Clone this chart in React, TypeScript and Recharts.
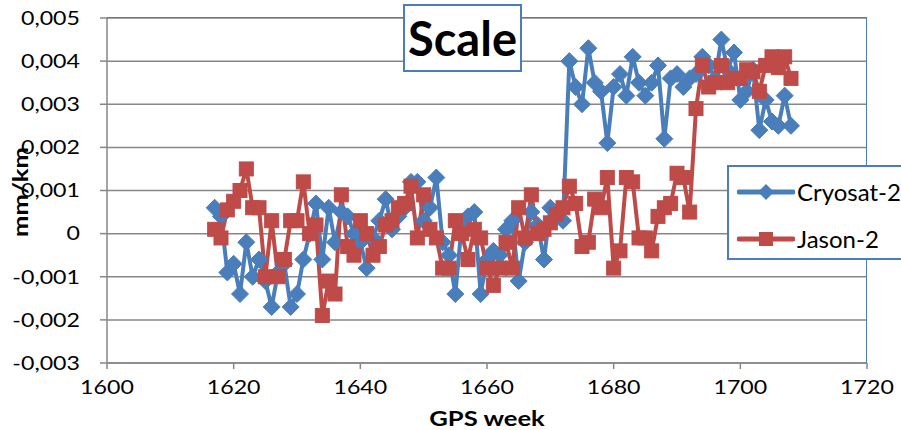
import React from 'react';
import { LineChart, Line, XAxis, YAxis, CartesianGrid } from 'recharts';

const weeks = [
  1617, 1618, 1619, 1620, 1621, 1622, 1623, 1624, 1625, 1626, 1627, 1628, 1629, 1630, 1631, 1632,
  1633, 1634, 1635, 1636, 1637, 1638, 1639, 1640, 1641, 1642, 1643, 1644, 1645, 1646, 1647, 1648,
  1649, 1650, 1651, 1652, 1653, 1654, 1655, 1656, 1657, 1658, 1659, 1660, 1661, 1662, 1663, 1664,
  1665, 1666, 1667, 1668, 1669, 1670, 1671, 1672, 1673, 1674, 1675, 1676, 1677, 1678, 1679, 1680,
  1681, 1682, 1683, 1684, 1685, 1686, 1687, 1688, 1689, 1690, 1691, 1692, 1693, 1694, 1695, 1696,
  1697, 1698, 1699, 1700, 1701, 1702, 1703, 1704, 1705, 1706, 1707, 1708,
];

// values in 0.001 mm/km
const cryosat2 = [
  0.6, 0.4, -0.9, -0.7, -1.4, -0.2, -1.0, -0.6, -1.1, -1.7, -0.9, -0.7, -1.7, -1.4, -0.6, 0.0,
  0.7, -0.6, 0.6, -0.2, 0.5, 0.4, 0.0, -0.2, -0.8, -0.1, 0.3, 0.8, 0.1, 0.4, 0.6, 1.2,
  1.2, 0.3, 0.6, 1.3, -0.2, -0.5, -1.4, 0.2, 0.4, 0.5, -1.4, -0.6, -0.4, -0.5, 0.1, 0.3,
  -1.1, -0.2, 0.5, 0.2, -0.6, 0.6, 0.4, 0.3, 4.0, 3.4, 3.0, 4.3, 3.5, 3.3, 2.1, 3.4,
  3.7, 3.2, 4.1, 3.5, 3.2, 3.5, 3.9, 2.2, 3.6, 3.7, 3.4, 3.6, 3.7, 4.1, 3.9, 3.6,
  4.5, 3.8, 4.2, 3.1, 3.3, 3.8, 2.4, 3.1, 2.6, 2.5, 3.2, 2.5,
];

const jason2 = [
  0.1, -0.1, 0.55, 0.75, 1.0, 1.5, 0.6, 0.6, -1.0, 0.3, -1.0, -0.6, 0.3, 0.3, 1.2, 0.0,
  0.2, -1.9, -1.1, -1.4, 0.9, -0.3, -0.5, 0.3, 0.0, -0.5, -0.3, 0.2, 0.3, 0.6, 0.7, 1.1,
  -0.1, 0.9, 0.1, -0.1, -0.8, -0.8, 0.3, 0.0, -0.6, 0.1, -0.1, -0.8, -1.2, -0.8, -0.2, -0.8,
  0.6, -0.1, 0.9, 0.0, 0.1, 0.25, 0.45, 0.6, 1.1, 0.7, -0.3, -0.2, 0.8, 0.6, 1.3, -0.8,
  -0.4, 1.3, 1.2, -0.1, -0.1, -0.4, 0.4, 0.6, 0.7, 1.4, 1.3, 0.5, 2.9, 3.9, 3.4, 3.5,
  3.9, 3.5, 3.6, 3.6, 3.8, 3.75, 3.3, 3.9, 4.1, 3.85, 4.1, 3.6,
];

const xTicks = [1600, 1620, 1640, 1660, 1680, 1700, 1720];
const yTicks = [-0.003, -0.002, -0.001, 0, 0.001, 0.002, 0.003, 0.004, 0.005];

const seriesNames = ['Cryosat-2', 'Jason-2'];
const titleText = 'Scale';
const xTitle = 'GPS week';
const yTitle = 'mm/km';

const data = weeks.map((w, i) => ({
  week: w,
  cryosat: cryosat2[i] / 1000,
  jason: jason2[i] / 1000,
}));

const BLUE = '#4a7ebb';
const RED = '#be4b48';
const GRID = '#878787';
const FONT = 'Lato, "Open Sans", sans-serif';

const fmtY = (v: number) => (Math.abs(v) < 1e-9 ? '0' : v.toFixed(3).replace('.', ','));

const YTick = (props: any) => {
  const { x, y, payload } = props;
  return (
    <g transform={`translate(${x},${y})`}>
      <text x={0} y={0} dy="0.36em" textAnchor="end" fontSize={19} fontFamily={FONT} fill="#000" transform="scale(1.22,1)">
        {fmtY(payload.value)}
      </text>
    </g>
  );
};

const XTick = (props: any) => {
  const { x, y, payload } = props;
  return (
    <g transform={`translate(${x},${y})`}>
      <text x={0} y={0} dy="0.71em" textAnchor="middle" fontSize={19} fontFamily={FONT} fill="#000" transform="scale(1.22,1)">
        {payload.value}
      </text>
    </g>
  );
};

const Diamond = (props: any) => {
  const { cx, cy, index } = props;
  if (cx == null || cy == null) return <g key={`d${index}`} />;
  const r = 8.5;
  return (
    <polygon
      key={`d${index}`}
      points={`${cx},${cy - r} ${cx + r},${cy} ${cx},${cy + r} ${cx - r},${cy}`}
      fill={BLUE}
      stroke={BLUE}
      strokeWidth={1}
    />
  );
};

const Square = (props: any) => {
  const { cx, cy, index } = props;
  if (cx == null || cy == null) return <g key={`s${index}`} />;
  const h = 7;
  return <rect key={`s${index}`} x={cx - h} y={cy - h} width={2 * h} height={2 * h} fill={RED} stroke={RED} strokeWidth={1} />;
};

const LegendIcon = ({ color, shape }: { color: string; shape: 'diamond' | 'square' }) => (
  <svg width={58} height={20} style={{ display: 'block' }}>
    <line x1={2} y1={10} x2={56} y2={10} stroke={color} strokeWidth={5} strokeLinecap="round" />
    {shape === 'diamond' ? (
      <polygon points="29,2 37,10 29,18 21,10" fill={color} />
    ) : (
      <rect x={22} y={3} width={14} height={14} fill={color} />
    )}
  </svg>
);

export default function App() {
  return (
    <div style={{ position: 'absolute', left: 0, top: 0, width: 901, height: 430, overflow: 'hidden', background: '#fff' }}>
      <LineChart width={901} height={430} data={data} margin={{ top: 18, right: 34, bottom: 0, left: 0 }}>
        <CartesianGrid vertical={false} stroke={GRID} strokeWidth={1.5} />
        <XAxis
          dataKey="week"
          type="number"
          domain={[1600, 1720]}
          ticks={xTicks}
          height={67}
          stroke={GRID}
          strokeWidth={1.5}
          tickSize={6}
          tickMargin={11}
          tick={<XTick />}
          interval={0}
          allowDataOverflow
        />
        <YAxis
          type="number"
          domain={[-0.003, 0.005]}
          ticks={yTicks}
          width={107}
          stroke={GRID}
          strokeWidth={1.5}
          tickSize={7}
          tickMargin={20}
          tick={<YTick />}
          interval={0}
          allowDataOverflow
        />
        <Line
          dataKey="cryosat"
          name={seriesNames[0]}
          stroke={BLUE}
          strokeWidth={4}
          dot={(p: any) => <Diamond {...p} key={`d${p.index}`} />}
          activeDot={false}
          isAnimationActive={false}
        />
        <Line
          dataKey="jason"
          name={seriesNames[1]}
          stroke={RED}
          strokeWidth={4}
          dot={(p: any) => <Square {...p} key={`s${p.index}`} />}
          activeDot={false}
          isAnimationActive={false}
        />
      </LineChart>

      {/* plot area border (top and right) */}
      <div
        style={{
          position: 'absolute',
          left: 107,
          top: 17,
          width: 760,
          height: 346,
          borderTop: `1.5px solid ${BLUE}`,
          borderRight: `1.5px solid ${BLUE}`,
          boxSizing: 'border-box',
          pointerEvents: 'none',
        }}
      />

      {/* title */}
      <div
        style={{
          position: 'absolute',
          left: 403,
          top: 4,
          width: 119,
          height: 68,
          border: `2px solid ${BLUE}`,
          boxSizing: 'border-box',
          background: '#fff',
          display: 'flex',
          alignItems: 'center',
          justifyContent: 'center',
          fontFamily: FONT,
          fontWeight: 700,
          fontSize: 47,
          color: '#000',
        }}
      >
        {titleText}
      </div>

      {/* axis titles */}
      <div
        style={{
          position: 'absolute',
          left: 387,
          top: 405,
          width: 200,
          textAlign: 'center',
          fontFamily: FONT,
          fontWeight: 700,
          fontSize: 20,
          lineHeight: '26px',
          transform: 'scaleX(1.28)',
          color: '#000',
        }}
      >
        {xTitle}
      </div>
      <div
        style={{
          position: 'absolute',
          left: -80,
          top: 179,
          width: 200,
          textAlign: 'center',
          fontFamily: FONT,
          fontWeight: 700,
          fontSize: 20,
          lineHeight: '26px',
          transform: 'rotate(-90deg) scaleX(1.28)',
          color: '#000',
        }}
      >
        {yTitle}
      </div>

      {/* legend */}
      <div
        style={{
          position: 'absolute',
          left: 727,
          top: 165,
          width: 200,
          height: 95,
          border: `2px solid ${BLUE}`,
          boxSizing: 'border-box',
          background: '#fff',
          fontFamily: FONT,
          fontSize: 24,
          color: '#000',
        }}
      >
        <div style={{ position: 'absolute', left: 8, top: 12, display: 'flex', alignItems: 'center' }}>
          <LegendIcon color={BLUE} shape="diamond" />
          <span style={{ marginLeft: 2, lineHeight: '26px' }}>{seriesNames[0]}</span>
        </div>
        <div style={{ position: 'absolute', left: 8, top: 59, display: 'flex', alignItems: 'center' }}>
          <LegendIcon color={RED} shape="square" />
          <span style={{ marginLeft: 2, lineHeight: '26px' }}>{seriesNames[1]}</span>
        </div>
      </div>
    </div>
  );
}
